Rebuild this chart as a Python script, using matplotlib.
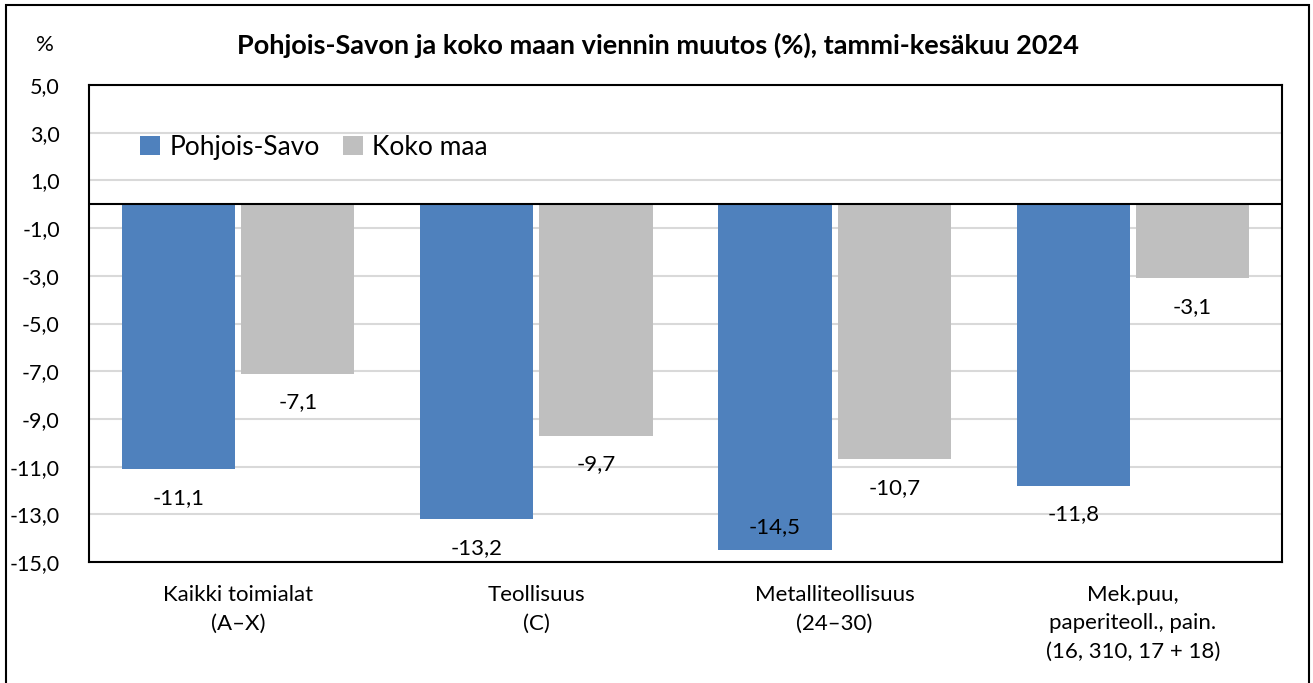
import numpy as np
import matplotlib.pyplot as plt
from matplotlib.patches import Rectangle

plt.rcParams['font.family'] = ['Lato', 'DejaVu Sans']

# Tiedot
kategoriat = ['Kaikki toimialat\n(A–X)', 'Teollisuus\n(C)', 'Metalliteollisuus\n(24–30)',
              'Mek.puu,\npaperiteoll., pain.\n(16, 310, 17 + 18)']
pohjois_savo = [-11.1, -13.2, -14.5, -11.8]
koko_maa = [-7.1, -9.7, -10.7, -3.1]
y_ticks = [5, 3, 1, -1, -3, -5, -7, -9, -11, -13, -15]

sininen = '#4F81BD'
harmaa = '#BFBFBF'

fig = plt.figure(figsize=(13.13, 6.83), dpi=100)
ax = fig.add_axes([89 / 1313, 1 - 562 / 683, (1282 - 89) / 1313, (562 - 85) / 683])

x = np.arange(len(kategoriat))
w = 0.38
b1 = ax.bar(x - 0.2, pohjois_savo, w, color=sininen, label='Pohjois-Savo', zorder=3)
b2 = ax.bar(x + 0.2, koko_maa, w, color=harmaa, label='Koko maa', zorder=3)

ax.set_xlim(-0.5, len(kategoriat) - 0.5)
ax.set_ylim(-15, 5)
ax.set_yticks(y_ticks)
ax.set_yticklabels([f'{t:.1f}'.replace('.', ',') for t in y_ticks], fontsize=15.5)
ax.tick_params(axis='y', length=0, pad=21)
ax.set_xticks([])
ax.grid(axis='y', color='#D9D9D9', linewidth=1.5, zorder=0)
ax.axhline(0, color='black', linewidth=1.5, zorder=4)
for s in ax.spines.values():
    s.set_linewidth(1.5)
    s.set_color('black')

# Arvot pylväiden alle
for xs, vals in [(x - 0.2, pohjois_savo), (x + 0.2, koko_maa)]:
    for xi, v in zip(xs, vals):
        ypos = v - 1.2
        if ypos < -14.8:
            ypos = v + 0.95
        ax.text(xi, ypos, f'{v:.1f}'.replace('.', ','), ha='center', va='center',
                fontsize=16, zorder=5)

# Luokkien nimet
for xi, k in zip(x, kategoriat):
    ax.text(xi, -15.95, k, ha='center', va='top', fontsize=16, linespacing=1.55)

ax.legend(loc='center left', bbox_to_anchor=(0.043, 0.87), ncol=2, frameon=False,
          fontsize=19, handlelength=0.75, handleheight=0.75, handletextpad=0.35,
          columnspacing=0.9, borderpad=0, borderaxespad=0)

fig.text(658 / 1313, 1 - 45 / 683, 'Pohjois-Savon ja koko maan viennin muutos (%), tammi-kesäkuu 2024',
         ha='center', va='center', fontsize=19.5, fontweight='bold')
fig.text(45 / 1313, 1 - 45 / 683, '%', ha='center', va='center', fontsize=16)

# Ulkoreunus
fig.patches.append(Rectangle((6 / 1313, -0.1), (1309 - 6) / 1313, 1 - 5 / 683 + 0.1,
                             transform=fig.transFigure, fill=False, edgecolor='black',
                             linewidth=1.5))

fig.savefig('out.png', dpi=100)
